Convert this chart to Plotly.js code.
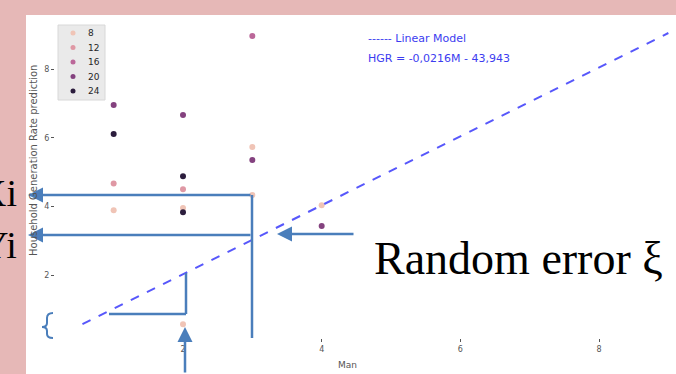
<!DOCTYPE html>
<html><head><meta charset="utf-8">
<script src="https://cdn.plot.ly/plotly-3.0.1.min.js"></script>
<style>html,body{margin:0;padding:0;background:#e6b8b7;overflow:hidden}</style>
</head><body><div id="chart" style="width:676px;height:374px"></div>
<script>
// ---- data ----
const manValues = [1, 1, 1, 1, 2, 2, 2, 2, 2, 2, 3, 3, 3, 3, 4, 4];
const hgrValues = [6.95, 6.11, 4.67, 3.89, 6.66, 4.88, 4.50, 3.95, 3.83, 0.57, 8.96, 5.73, 5.35, 4.33, 4.03, 3.43];
const hueValues = [20, 24, 12, 8, 20, 24, 12, 8, 24, 8, 16, 8, 20, 8, 8, 20];
const hueLevels = [8, 12, 16, 20, 24];
const hueColors = ['#f0c4b6', '#df98a4', '#bb6799', '#84427f', '#2c1d3d'];
const modelX = [0.55, 9.0];
const modelY = [0.57, 9.05];
const xTicks = [2, 4, 6, 8];
const yTicks = [2, 4, 6, 8];
const modelLabel = '------ Linear Model';
const modelEquation = 'HGR = -0,0216M - 43,943';
const xTitle = 'Man';
const yTitle = 'Household Generation Rate prediction';

// ---- page geometry (pixels) ----
const W = 676, H = 374, ML = 55, MR = 0, MT = 21, MB = 36;
const PW = W - ML - MR, PH = H - MT - MB;
const px = p => (p - ML) / PW;
const py = p => (H - MB - p) / PH;
const blue = '#4a7ebb';

const traces = hueLevels.map((h, i) => {
  const xs = [], ys = [];
  manValues.forEach((m, k) => { if (hueValues[k] === h) { xs.push(m); ys.push(hgrValues[k]); } });
  return {type: 'scatter', mode: 'markers', x: xs, y: ys, name: String(h),
    marker: {color: hueColors[i], size: 6}, showlegend: false};
});
traces.push({type: 'scatter', mode: 'lines', x: modelX, y: modelY, showlegend: false,
  line: {color: 'rgba(45,45,250,0.8)', width: 2, dash: 'dash'}});

function arrow(tipX, tipY, tailX, tailY) {
  return {xref: 'paper', yref: 'paper', x: px(tipX), y: py(tipY), ax: tailX - tipX, ay: tailY - tipY,
    text: '', showarrow: true, arrowhead: 2, arrowsize: 1.2, arrowwidth: 2.5, arrowcolor: blue, standoff: 0};
}
function text(t, x, y, xa, font, extra) {
  return Object.assign({xref: 'paper', yref: 'paper', x: px(x), y: py(y), xanchor: xa, yanchor: 'middle',
    text: t, showarrow: false, font: font}, extra || {});
}
function line(x0, y0, x1, y1) {
  return {type: 'line', xref: 'paper', yref: 'paper', x0: px(x0), y0: py(y0), x1: px(x1), y1: py(y1),
    line: {color: blue, width: 2.5}, layer: 'above'};
}
const bracePath = 'M' + px(53) + ',' + py(313) + ' Q' + px(47) + ',' + py(313) + ' ' + px(47) + ',' + py(318) +
  ' L' + px(47) + ',' + py(323) + ' Q' + px(47) + ',' + py(327) + ' ' + px(42) + ',' + py(327) +
  ' Q' + px(47) + ',' + py(327) + ' ' + px(47) + ',' + py(331) +
  ' L' + px(47) + ',' + py(334) + ' Q' + px(47) + ',' + py(338) + ' ' + px(53) + ',' + py(338);

// seaborn-style legend box (hue levels)
const legendShapes = [{type: 'rect', xref: 'paper', yref: 'paper', x0: px(58), x1: px(105), y0: py(100), y1: py(25),
  fillcolor: 'rgba(232,232,232,0.9)', line: {color: '#d8d8d8', width: 1}, layer: 'above'}];
const legendNotes = [];
hueLevels.forEach((h, i) => {
  const cy = 33 + 14.5 * i;
  legendShapes.push({type: 'circle', xref: 'paper', yref: 'paper', x0: px(70.5), x1: px(75.5), y0: py(cy + 2.5), y1: py(cy - 2.5),
    fillcolor: hueColors[i], line: {width: 0}, layer: 'above'});
  legendNotes.push(text(String(h), 86, cy, 'left', {family: 'DejaVu Sans', size: 9, color: '#262626'}));
});

const layout = {
  width: W, height: H, margin: {l: ML, r: MR, t: MT, b: MB, pad: 0},
  paper_bgcolor: '#e6b8b7', plot_bgcolor: '#e5e5e5',
  font: {family: 'DejaVu Sans', color: '#555555'},
  showlegend: false,
  xaxis: {range: [0.154, 9.11], tickvals: xTicks, ticks: 'outside', ticklen: 3, tickcolor: '#555555',
    gridcolor: '#ffffff', gridwidth: 1, zeroline: false, showline: false, tickfont: {size: 8, color: '#555555'}},
  yaxis: {range: [0.166, 9.40], tickvals: yTicks, ticks: 'outside', ticklen: 3, tickcolor: '#555555',
    gridcolor: '#ffffff', gridwidth: 1, zeroline: false, showline: false, tickfont: {size: 8, color: '#555555'}},
  shapes: [
    {type: 'rect', xref: 'paper', yref: 'paper', x0: px(26), x1: px(700), y0: py(400), y1: py(15),
      fillcolor: '#ffffff', line: {width: 0}, layer: 'below'},
    line(252, 195, 252, 338),
    line(186, 273, 186, 314),
    line(109, 314, 186, 314),
    {type: 'path', xref: 'paper', yref: 'paper', path: bracePath, line: {color: blue, width: 2}, layer: 'above'}
  ].concat(legendShapes),
  annotations: [
    arrow(28, 195, 252, 195),
    arrow(28, 235, 252, 235),
    arrow(277, 234, 355, 234),
    arrow(185, 327, 185, 380),
    text(modelLabel, 366, 38.5, 'left', {family: 'DejaVu Sans', size: 11, color: '#3c3cf0'}),
    text(modelEquation, 366, 58, 'left', {family: 'DejaVu Sans', size: 11, color: '#3c3cf0'}),
    text('Random error ξ', 372, 258.5, 'left', {family: 'Liberation Serif', size: 46, color: '#000000'}),
    text('Xi', 19, 193.5, 'right', {family: 'Liberation Serif', size: 38, color: '#000000'}),
    text('Yi', 19, 245, 'right', {family: 'Liberation Serif', size: 38, color: '#000000'}),
    text(xTitle, 347, 365, 'center', {family: 'DejaVu Sans', size: 9, color: '#555555'}),
    text(yTitle, 33, 161, 'center', {family: 'DejaVu Sans', size: 10, color: '#555555'}, {textangle: -90})
  ].concat(legendNotes)
};
Plotly.newPlot('chart', traces, layout, {displayModeBar: false, staticPlot: true});
</script></body></html>
